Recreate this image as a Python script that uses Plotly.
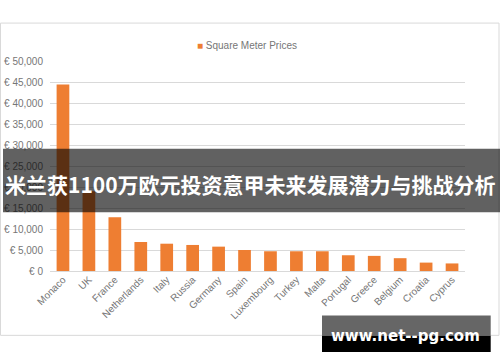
import plotly.graph_objects as go

countries = ["Monaco", "UK", "France", "Netherlands", "Italy", "Russia", "Germany", "Spain",
             "Luxembourg", "Turkey", "Malta", "Portugal", "Greece", "Belgium", "Croatia", "Cyprus"]
prices = [44400, 19000, 12800, 6900, 6500, 6200, 5800, 5000,
          4700, 4700, 4700, 3750, 3600, 3050, 2000, 1800]
series_name = "Square Meter Prices"
y_ticks = [0, 5000, 10000, 15000, 20000, 25000, 30000, 35000, 40000, 45000, 50000]
y_tick_labels = ["€ 0", "€ 5,000", "€ 10,000", "€ 15,000", "€ 20,000", "€ 25,000",
                 "€ 30,000", "€ 35,000", "€ 40,000", "€ 45,000", "€ 50,000"]
banner_text = "米兰获1100万欧元投资意甲未来发展潜力与挑战分析"
watermark_text = "www.net--pg.com"

W, H = 500, 362
L, R, T, B = 50, 35, 61, 90.5
pw, ph = W - L - R, H - T - B


def px(x):
    return (x - L) / pw


def py(y):
    return (H - B - y) / ph


fig = go.Figure()
fig.add_trace(go.Bar(x=countries, y=prices, name=series_name,
                     marker=dict(color="#EE7E32", line=dict(width=0)),
                     showlegend=False))

grey = "#767676"
fig.update_layout(
    width=W, height=H,
    margin=dict(l=L, r=R, t=T, b=B, autoexpand=False),
    paper_bgcolor="white", plot_bgcolor="white",
    bargap=0.51,
    font=dict(family="Liberation Sans, Arial, sans-serif", size=10, color=grey),
    xaxis=dict(tickangle=-45, showgrid=False, showline=False, ticks="", automargin=False,
               tickfont=dict(size=10, color=grey)),
    yaxis=dict(range=[0, 50000], tickmode="array", tickvals=y_ticks, ticktext=y_tick_labels,
               showgrid=True, gridcolor="#D9D9D9", gridwidth=1, zeroline=True, automargin=False,
               zerolinecolor="#D9D9D9", zerolinewidth=1, ticks="", showline=False,
               tickfont=dict(size=10, color=grey), ticklabelstandoff=6),
)

shapes = [
    # chart area border
    dict(type="rect", xref="paper", yref="paper", x0=px(0.5), x1=px(499), y0=py(336), y1=py(23),
         line=dict(color="#D9D9D9", width=1), fillcolor="rgba(0,0,0,0)", layer="below"),
    # banner
    dict(type="rect", xref="paper", yref="paper", x0=px(3), x1=px(500), y0=py(212.7), y1=py(149),
         line=dict(width=0), fillcolor="rgba(0,0,0,0.62)", layer="above"),
    # watermark
    dict(type="rect", xref="paper", yref="paper", x0=px(322), x1=px(490.7), y0=py(336.5), y1=py(316),
         line=dict(width=0), fillcolor="#666666", layer="above"),
    dict(type="rect", xref="paper", yref="paper", x0=px(322), x1=px(490.7), y0=py(352.7), y1=py(336.5),
         line=dict(width=0), fillcolor="#000000", layer="above"),
]
fig.update_layout(shapes=shapes)

fig.add_annotation(xref="paper", yref="paper", x=px(247), y=py(45), xanchor="center", yanchor="middle",
                   showarrow=False,
                   text='<span style="color:#EE7E32">■</span> ' + series_name,
                   font=dict(size=10, color=grey, family="Liberation Sans, Arial, sans-serif"))
fig.add_annotation(xref="paper", yref="paper", x=px(250), y=py(184), xanchor="center", yanchor="middle",
                   showarrow=False, text="<b>" + banner_text + "</b>",
                   font=dict(size=21, color="white", family="Noto Sans CJK SC"))
fig.add_annotation(xref="paper", yref="paper", x=px(405), y=py(337), xanchor="center", yanchor="middle",
                   showarrow=False, text="<b>" + watermark_text + "</b>",
                   font=dict(size=15, color="white", family="DejaVu Sans"))

fig.write_html("out.html", config={"displayModeBar": False},
               post_script="document.body.style.margin='0';document.body.style.padding='0';")
